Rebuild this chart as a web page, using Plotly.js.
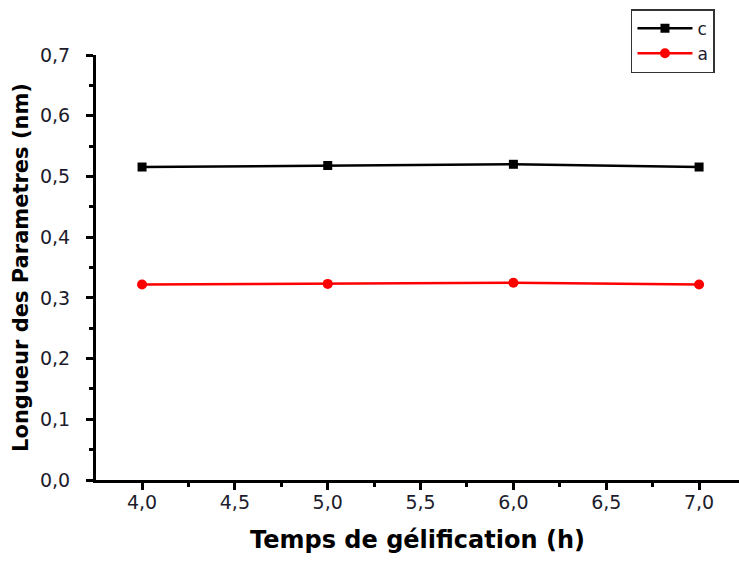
<!DOCTYPE html>
<html>
<head>
<meta charset="utf-8">
<script src="https://cdn.plot.ly/plotly-3.0.1.min.js"></script>
<style>html,body{margin:0;padding:0;background:#fff;overflow:hidden}#chart{width:739px;height:561px}</style>
</head>
<body>
<div id="chart"></div>
<script>
const hours = [4.0, 5.0, 6.0, 7.0];
const cValues = [0.5155, 0.518, 0.520, 0.5155];
const aValues = [0.322, 0.323, 0.325, 0.322];
const seriesNames = ["c", "a"];
const xTitle = "Temps de gélification (h)";
const yTitle = "Longueur des Parametres (nm)";

const textColor = "#1c1c2c";
const traces = [
  {x: hours, y: cValues, name: seriesNames[0], mode: "lines+markers",
   line: {color: "#000000", width: 2.5}, marker: {symbol: "square", size: 9, color: "#000000"}},
  {x: hours, y: aValues, name: seriesNames[1], mode: "lines+markers",
   line: {color: "#ff0000", width: 2.5}, marker: {symbol: "circle", size: 10, color: "#ff0000"}}
];
const layout = {
  width: 739, height: 561,
  margin: {l: 96, r: 0, t: 55, b: 81, pad: 0},
  paper_bgcolor: "#ffffff", plot_bgcolor: "#ffffff",
  separators: ", ",
  font: {family: "DejaVu Sans, Verdana, sans-serif", color: textColor, size: 15},
  showlegend: true,
  legend: {x: 0.832, y: 1.108, xanchor: "left", yanchor: "top",
    bordercolor: "#333333", borderwidth: 1.5, bgcolor: "#ffffff",
    itemwidth: 55,
    font: {size: 17, color: textColor}, tracegroupgap: 0},
  xaxis: {
    range: [3.752, 7.215], tickvals: [4.0, 4.5, 5.0, 5.5, 6.0, 6.5, 7.0], tickformat: ".1f",
    showgrid: false, zeroline: false, showline: true, linecolor: "#000", linewidth: 3,
    ticks: "outside", ticklen: 7, tickwidth: 3, tickcolor: "#000", ticklabelstandoff: -4,
    minor: {tickvals: [3.75, 4.25, 4.75, 5.25, 5.75, 6.25, 6.75], ticks: "outside", ticklen: 4, tickwidth: 3, tickcolor: "#000", showgrid: false},
    tickfont: {size: 19, color: textColor},
    title: {text: xTitle, font: {size: 24, color: "#000", family: "DejaVu Sans, Verdana, sans-serif", weight: "bold"}, standoff: 20}
  },
  yaxis: {
    range: [0, 0.7], tickvals: [0, 0.1, 0.2, 0.3, 0.4, 0.5, 0.6, 0.7], tickformat: ".1f",
    showgrid: false, zeroline: false, showline: true, linecolor: "#000", linewidth: 3,
    ticks: "outside", ticklen: 7, tickwidth: 3, tickcolor: "#000", ticklabelstandoff: 12,
    minor: {tickvals: [0.05, 0.15, 0.25, 0.35, 0.45, 0.55, 0.65], ticks: "outside", ticklen: 4, tickwidth: 3, tickcolor: "#000", showgrid: false},
    tickfont: {size: 19, color: textColor},
    title: {text: yTitle, font: {size: 21, color: "#000", family: "DejaVu Sans, Verdana, sans-serif", weight: "bold"}, standoff: 6}
  }
};
Plotly.newPlot("chart", traces, layout, {displayModeBar: false, staticPlot: true});
</script>
</body>
</html>
